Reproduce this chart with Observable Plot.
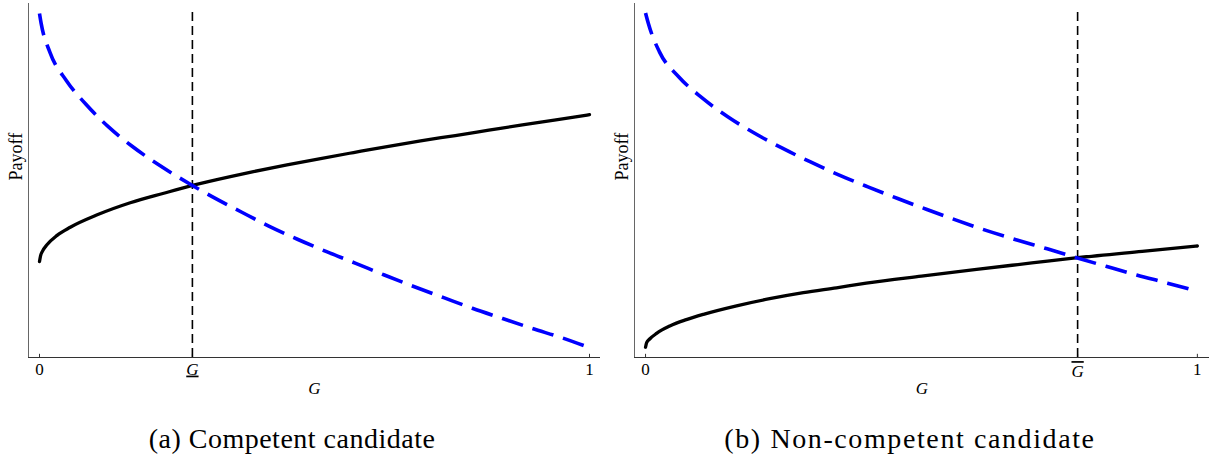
<!DOCTYPE html>
<html><head><meta charset="utf-8">
<script src="https://cdn.jsdelivr.net/npm/d3@7"></script>
<script src="https://cdn.jsdelivr.net/npm/@observablehq/plot@0.6"></script>
<style>
body{margin:0;background:#fff;}
#wrap{position:relative;width:1209px;height:456px;overflow:hidden;background:#fff;}
.panel{position:absolute;top:0;}
.cap{position:absolute;top:423px;width:600px;text-align:center;font-family:'Liberation Serif';font-size:28px;letter-spacing:0.5px;line-height:32px;color:#000;white-space:nowrap;}
</style></head><body>
<div id="wrap"></div>
<script>
// ---- text ----
const captions = ["(a) Competent candidate", "(b) Non-competent candidate"];
const xLabel = "G";
const yLabel = "Payoff";
const serif = "'Liberation Serif'";

// ---- x ticks ----
const tickValuesA = [0, 0.278, 1];
const tickLabelsA = ["0", "G", "1"];
const tickValuesB = [0, 0.783, 1];
const tickLabelsB = ["0", "G", "1"];

// thresholds (vertical dashed lines)
const thresholdA = 0.278;   // G underline
const thresholdB = 0.783;   // G overline

// ---- panel (a): competent candidate ----
const gBlackA      = [0, 0.002, 0.005, 0.014, 0.032, 0.056, 0.105, 0.165, 0.226, 0.278, 0.347, 0.389, 0.450, 0.511, 0.571, 0.632, 0.693, 0.756, 0.817, 0.878, 0.939, 1.0];
const payoffBlackA = [0.271, 0.288, 0.299, 0.319, 0.345, 0.368, 0.403, 0.437, 0.464, 0.486, 0.511, 0.525, 0.544, 0.562, 0.579, 0.596, 0.612, 0.627, 0.642, 0.657, 0.671, 0.686];

const gBlueA      = [0, 0.003, 0.019, 0.049, 0.084, 0.125, 0.169, 0.216, 0.278, 0.313, 0.367, 0.416, 0.469, 0.522, 0.575, 0.627, 0.678, 0.735, 0.787, 0.842, 0.896, 0.951, 1.0];
const payoffBlueA = [0.972, 0.944, 0.862, 0.782, 0.716, 0.652, 0.596, 0.545, 0.486, 0.455, 0.411, 0.372, 0.334, 0.299, 0.266, 0.233, 0.202, 0.169, 0.139, 0.110, 0.082, 0.055, 0.028];

// ---- panel (b): non-competent candidate ----
const gBlackB      = [0, 0.002, 0.008, 0.020, 0.044, 0.074, 0.105, 0.165, 0.225, 0.286, 0.346, 0.40, 0.50, 0.60, 0.70, 0.783, 0.90, 1.0];
const payoffBlackB = [0.029, 0.042, 0.053, 0.068, 0.089, 0.107, 0.122, 0.146, 0.166, 0.183, 0.197, 0.210, 0.230, 0.249, 0.267, 0.282, 0.300, 0.315];

const gBlueB      = [0, 0.005, 0.025, 0.060, 0.102, 0.149, 0.197, 0.247, 0.298, 0.350, 0.403, 0.457, 0.510, 0.563, 0.617, 0.673, 0.728, 0.781, 0.836, 0.890, 0.946, 1.0];
const payoffBlueB = [0.973, 0.944, 0.864, 0.793, 0.734, 0.680, 0.634, 0.592, 0.553, 0.516, 0.482, 0.449, 0.418, 0.388, 0.359, 0.332, 0.307, 0.282, 0.257, 0.233, 0.210, 0.187];

const zip = (xs, ys) => xs.map((x, i) => ({g: x, payoff: ys[i]}));

function makePanel({width, marginRight, xDomain, ticks, labels, threshold, black, blue, decoration, shiftPx}) {
  const svg = Plot.plot({
    width, height: 410,
    marginLeft: 28, marginRight, marginTop: 3, marginBottom: 53,
    style: {fontFamily: serif, fontSize: "17px", background: "white", color: "black"},
    x: {domain: xDomain, ticks, tickFormat: d => labels[ticks.indexOf(d)], tickSize: 0, tickPadding: 5, label: null},
    y: {domain: [0, 1], axis: null},
    marks: [
      Plot.ruleY([0], {stroke: "#333", strokeWidth: 1}),
      Plot.ruleX([xDomain[0]], {y1: 0, y2: 1, stroke: "#666", strokeWidth: 1}),
      Plot.ruleX(ticks, {x: d => d, y1: 0, y2: 0.009, stroke: "#333", strokeWidth: 1}),
      Plot.ruleX([threshold], {x: d => d, y1: 0, y2: 0.985, stroke: "black", strokeWidth: 1.6, strokeDasharray: "9,5"}),
      Plot.line(black, {x: "g", y: "payoff", curve: "monotone-x", stroke: "black", strokeWidth: 3.3}),
      Plot.line(blue, {x: "g", y: "payoff", curve: "monotone-x", stroke: "#0000ff", strokeWidth: 3.6, strokeDasharray: "22,10", strokeLinecap: "butt"}),
      Plot.text([yLabel], {text: d => d, frameAnchor: "left", dx: -12, rotate: -90, fontSize: 18, fontFamily: serif}),
      Plot.text([xLabel], {text: d => d, frameAnchor: "bottom", dy: 36, fontStyle: "italic", fontSize: 17, fontFamily: serif})
    ]
  });
  d3.select(svg).selectAll("text")
    .filter(function() { return this.textContent === "G" && this.closest('[aria-label^="x-axis"]'); })
    .attr("font-style", "italic")
    .style("text-decoration", decoration)
    .each(function() {
      if (!shiftPx) return;
      const cur = this.getAttribute("dy");
      let base = 0;
      if (cur) base = cur.endsWith("em") ? parseFloat(cur) * 17 : parseFloat(cur) || 0;
      this.setAttribute("dy", String(base + shiftPx));
    });
  return svg;
}

const wrap = document.getElementById("wrap");

const svgA = makePanel({
  width: 604, marginRight: 4, xDomain: [-0.02, 1.02],
  ticks: tickValuesA, labels: tickLabelsA, threshold: thresholdA,
  black: zip(gBlackA, payoffBlackA), blue: zip(gBlueA, payoffBlueA), decoration: "underline"
});
svgA.classList.add("panel"); svgA.style.left = "0px";
wrap.appendChild(svgA);

const svgB = makePanel({
  width: 603, marginRight: 0, xDomain: [-0.02, 1.022],
  ticks: tickValuesB, labels: tickLabelsB, threshold: thresholdB,
  black: zip(gBlackB, payoffBlackB), blue: zip(gBlueB, payoffBlueB), decoration: "overline", shiftPx: 2.5
});
svgB.classList.add("panel"); svgB.style.left = "606px";
wrap.appendChild(svgB);

const capCenters = [292, 910];
const capSpacing = ["0.5px", "1.6px"];
captions.forEach((c, i) => {
  const d = document.createElement("div");
  d.className = "cap";
  d.textContent = c;
  d.style.left = (capCenters[i] - 300) + "px";
  d.style.letterSpacing = capSpacing[i];
  wrap.appendChild(d);
});
</script>
</body></html>
